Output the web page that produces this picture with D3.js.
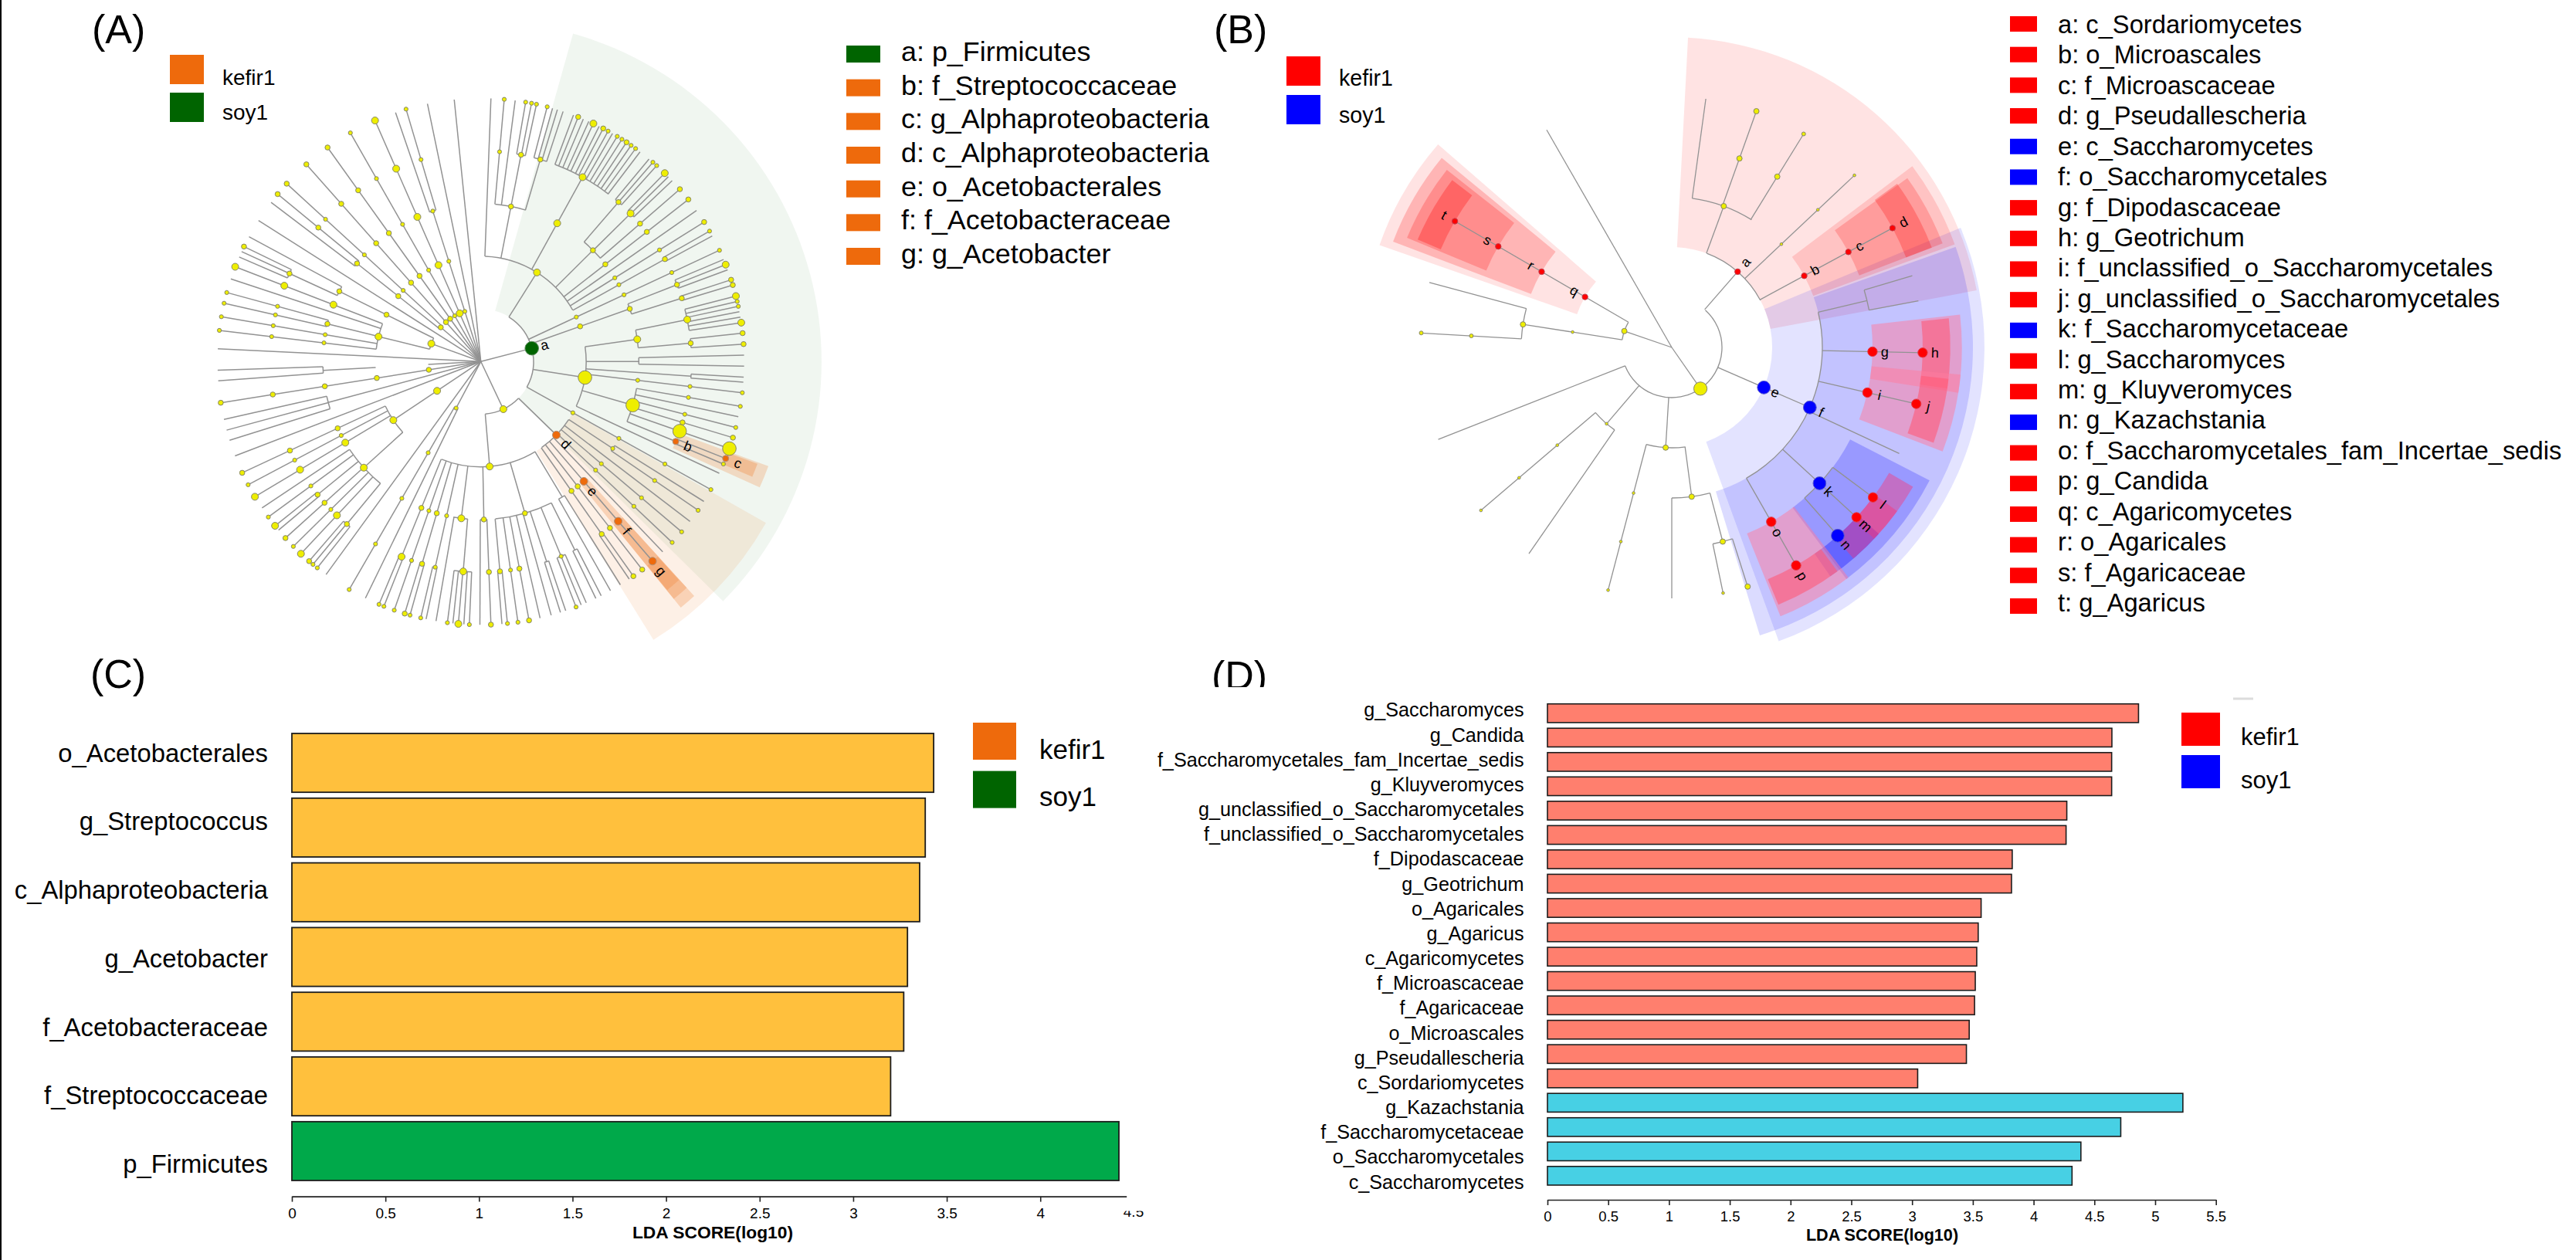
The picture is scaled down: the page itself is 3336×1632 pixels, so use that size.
<!DOCTYPE html>
<html><head><meta charset="utf-8">
<style>html,body{margin:0;padding:0;background:#fff}svg{display:block}text{font-family:"Liberation Sans",Arial,sans-serif;fill:#000}</style>
<script src="https://cdn.jsdelivr.net/npm/d3@7"></script>
</head><body><svg id="c" width="3336" height="1632"></svg>
<script>
// ---------- DATA ----------
const classes = ["kefir1","soy1"];
const panelLabels = ["(A)","(B)","(C)","(D)"];
const legendAItems = ["a: p_Firmicutes","b: f_Streptococcaceae","c: g_Alphaproteobacteria","d: c_Alphaproteobacteria","e: o_Acetobacterales","f: f_Acetobacteraceae","g: g_Acetobacter"];
const legendAClass = [1,0,0,0,0,0,0];
const legendBItems = ["a: c_Sordariomycetes","b: o_Microascales","c: f_Microascaceae","d: g_Pseudallescheria","e: c_Saccharomycetes","f: o_Saccharomycetales","g: f_Dipodascaceae","h: g_Geotrichum","i: f_unclassified_o_Saccharomycetales","j: g_unclassified_o_Saccharomycetales","k: f_Saccharomycetaceae","l: g_Saccharomyces","m: g_Kluyveromyces","n: g_Kazachstania","o: f_Saccharomycetales_fam_Incertae_sedis","p: g_Candida","q: c_Agaricomycetes","r: o_Agaricales","s: f_Agaricaceae","t: g_Agaricus"];
const legendBClass = [0,0,0,0,1,1,0,0,0,0,1,0,0,1,0,0,0,0,0,0];

const barCCats = ["o_Acetobacterales","g_Streptococcus","c_Alphaproteobacteria","g_Acetobacter","f_Acetobacteraceae","f_Streptococcaceae","p_Firmicutes"];
const barCVals = [3.43,3.385,3.355,3.29,3.27,3.2,4.42];
const barCClass = [0,0,0,0,0,0,1];
const barDCats = ["g_Saccharomyces","g_Candida","f_Saccharomycetales_fam_Incertae_sedis","g_Kluyveromyces","g_unclassified_o_Saccharomycetales","f_unclassified_o_Saccharomycetales","f_Dipodascaceae","g_Geotrichum","o_Agaricales","g_Agaricus","c_Agaricomycetes","f_Microascaceae","f_Agaricaceae","o_Microascales","g_Pseudallescheria","c_Sordariomycetes","g_Kazachstania","f_Saccharomycetaceae","o_Saccharomycetales","c_Saccharomycetes"];
const barDVals = [4.863,4.644,4.642,4.642,4.273,4.267,3.824,3.818,3.568,3.544,3.532,3.52,3.514,3.47,3.447,3.046,5.228,4.717,4.389,4.316];
const barDClass = [0,0,0,0,0,0,0,0,0,0,0,0,0,0,0,0,1,1,1,1];
const ticksC = [0,0.5,1,1.5,2,2.5,3,3.5,4];
const ticksD = [0,0.5,1,1.5,2,2.5,3,3.5,4,4.5,5,5.5];

// cladogram A: [angle clockwise from north, from level, to level, node code per level ('.'=none)]
const branchesA = [
[-5.8,0,5,"....."],[-11.7,0,5,"....."],[-17.7,0,3,"sss"],[-16.5,3,5,"ss"],[-18.9,3,5,".."],
[-23.7,0,5,"lllll"],[-29.7,0,5,"sssss"],[-35.6,0,5,"mmmmm"],[-41.5,0,5,"mmmmm"],
[-47.5,1,5,"sssm"],[-51.6,1,3,"mm"],[-50.5,3,5,"mm"],[-52.8,3,5,".."],[-49.5,0,1,"m"],[-57.6,0,5,"....."],
[-70.1,0,1,"l"],[-63.6,1,3,"mm"],[-61.7,3,5,".."],[-65.3,3,4,"m"],[-64.1,4,5,"m"],[-65.3,4,5,"."],[-66.6,4,5,"."],
[-76.3,1,2,"l"],[-68.9,2,5,"lll"],[-71.7,2,5,"..."],[-76.2,2,3,"m"],[-74.8,3,5,"ss"],[-77.2,3,5,"ss"],[-80.2,2,5,"sss"],[-83.2,2,5,"sss"],
[-87.2,0,5,"....."],[-93.2,0,1,"."],[-93.2,2,3,"."],[-91.9,3,5,".."],[-94.2,3,5,".."],[-99,0,5,"mmmmm"],
[-105,0,3,"..."],[-102.7,3,5,".."],[-105.1,3,5,".."],[-107.4,3,5,".."],[-111,0,5,"....."],
[-123.8,0,2,"ll"],[-115,2,5,"mmm"],[-117.9,2,5,"sss"],[-120.9,2,5,"lll"],[-132.2,2,3,"l"],
[-123.8,3,5,".."],[-126.2,3,5,"ss"],[-129.2,3,4,"m"],[-128.6,4,5,"l"],[-129.8,4,5,"."],[-132.1,3,5,"mm"],[-134.6,3,5,"ss"],[-136.9,3,5,"ll"],
[-140.5,3,4,"m"],[-139.3,4,5,"m"],[-140.4,4,5,"s"],[-141.6,4,5,"s"],[-144,0,5,"....."],
[-152,0,1,"s"],[-150,1,5,"ssss"],[-154,1,5,"...."],
[154.7,0,1,"l"],[175.2,1,2,"l"],
[-157.9,2,4,"ml"],[-157.25,4,5,"s"],[-158.4,4,5,"s"],[-160.8,2,5,"sss"],[-163.8,2,4,"mm"],[-163.2,4,5,"m"],[-164.4,4,5,"s"],
[-167.5,2,4,"ss"],[-166.8,4,5,"s"],[-168,4,5,"."],[-172.9,2,3,"l"],[-170.2,3,5,".."],[-175.2,3,4,"l"],
[-172.7,4,5,"s"],[-173.9,4,5,"."],[-175.1,4,5,"l"],[-176.3,4,5,"."],[-177.5,4,5,"s"],
[178.9,2,3,"m"],[180.2,3,5,".."],[177.8,3,5,"mm"],
[163.8,2,3,"m"],[174.8,3,4,"m"],[175.4,4,5,"."],[174.2,4,5,"s"],[171.9,3,5,"ss"],[169.45,3,5,"mm"],[167,3,5,".."],[164.5,3,5,".."],
[161.8,3,4,"."],[162.4,4,5,"."],[161.2,4,5,"."],[157.6,3,4,"s"],[158.8,4,5,"s"],[157.6,4,5,"."],[156.4,4,5,"."],
[153.5,3,4,"."],[154.1,4,5,"."],[152.8,4,5,"."],[149,2,3,"."],[150.5,3,5,".."],[148,3,5,".."],
[134.2,1,2,"O"],[145,2,4,"mm"],[145.7,4,5,"."],[144.6,4,5,"m"],[142.2,2,5,"mmm"],[139.3,2,5,"OOO"],[136.3,2,5,"..."],
[133.4,2,5,"sss"],[130.3,2,5,"sss"],[127.4,2,5,"..."],[123.4,2,3,"s"],[124.4,3,5,"ss"],[122.1,3,5,".."],[119.1,1,5,"ssss"],
[75.4,0,1,"G"],[70.5,1,3,"mm"],[68.6,3,4,"m"],[67.2,4,5,"."],[68.4,4,5,"l"],[69.6,4,5,"."],[72.5,3,4,"m"],[71.9,4,5,"m"],[73.1,4,5,"m"],
[65,1,5,"ssss"],[98.7,1,2,"x"],[115.1,2,5,"..."],[106,2,3,"x"],[99.8,3,5,"ss"],[102.1,3,5,".."],[104.5,3,5,"ss"],[106.8,3,5,"mm"],[109.3,3,5,"xx"],
[112.3,3,4,"o"],[111.6,4,5,"o"],[112.9,4,5,"s"],[96.8,2,5,"sss"],[94,2,4,".."],[93.4,4,5,"."],[94.5,4,5,"."],[90,2,3,"."],[88.6,3,5,".."],[91,3,5,".."],
[81.9,2,3,"l"],[78.5,3,4,"l"],[75.6,4,5,"l"],[76.8,4,5,"s"],[77.9,4,5,"s"],[79.1,4,5,"."],[80.3,4,5,"."],[81.5,4,5,"l"],[85,3,4,"m"],[83.8,4,5,"m"],[86.2,4,5,"m"],
[32.2,1,2,"l"],[28.9,2,4,"ll"],[20.6,4,5,"."],[21.7,4,5,"m"],[22.9,4,5,"."],[24.2,4,5,"."],[25.3,4,5,"l"],[26.7,4,5,"."],[27.7,4,5,"m"],[28.9,4,5,"s"],[30,4,5,"."],[31.2,4,5,"s"],[32.4,4,5,"s"],[33.6,4,5,"m"],[34.8,4,5,"s"],[36,4,5,"s"],[37.2,4,5,"."],
[2.2,2,5,"..."],[11,2,3,"m"],[5.1,3,5,"ss"],[7.5,3,5,".."],[11,3,4,"m"],[9.8,4,5,"s"],[11.1,4,5,"s"],[12.2,4,5,"s"],[16.4,3,4,"m"],[14.6,4,5,"s"],[15.8,4,5,"."],[16.9,4,5,"."],[18.2,4,5,"."],
[45.2,2,3,"m"],[40.8,3,4,"m"],[39.7,4,5,"."],[40.8,4,5,"s"],[41.9,4,5,"s"],[45.3,3,4,"l"],[44.3,4,5,"l"],[45.4,4,5,"."],[46.6,4,5,"."],[49.1,3,5,"mm"],
[52,2,5,"mmm"],[55,2,5,"..."],[58,2,5,"ssm"],[60.9,2,4,"sm"],[60.3,4,5,"s"],[61.5,4,5,"."]
];
// connecting arcs: [level, from angle, to angle]
const arcsA = [[3,-18.9,-16.5],[3,-52.8,-50.5],[1,-51.6,-47.5],[1,-76.4,-63.6],[3,-65.3,-61.7],[4,-66.6,-64.1],[2,-83.2,-69],[3,-77.2,-74.8],
[3,-94.2,-91.9],[3,-107.4,-102.7],[2,-132.2,-115],[3,-140.6,-123.8],[4,-129.8,-128.6],[4,-141.6,-139.3],[1,-154,-150],
[1,134.2,175.2],[2,148.8,201.9],[4,-158.4,-157.25],[4,-164.4,-163.2],[4,-168,-166.8],[3,-175.2,-170],[4,-177.5,-172.7],[3,177.8,180.2],
[3,153.5,174.7],[4,174.2,175.4],[4,161.2,162.4],[4,156.4,158.8],[4,152.8,154.1],[3,148,150.5],[2,123.4,144.7],[4,144.6,145.7],[3,122.1,124.4],
[1,32.2,119.2],[3,68.6,72.5],[4,67.2,69.6],[4,71.9,73.1],[2,81.9,115],[3,99.8,112.3],[4,111.6,112.9],[4,93.4,94.5],[3,88.6,91],[3,78.5,85],[4,75.6,81.5],[4,83.8,86.2],
[2,2.3,60.8],[4,20.6,37.3],[3,5.2,16.5],[4,9.8,12.2],[4,14.6,18.2],[3,40.8,49.2],[4,39.7,41.9],[4,44.3,46.6],[4,60.3,61.5]];
// shaded clades: [from angle, to angle, inner level, outer level, class, clade]
const sectorsA = [[15.7,134.7,1,6.47,1,"a"],[119.5,148.2,2,6.22,0,"d"],[137.7,140.9,3,6.02,0,"e"],[137.7,140.9,4,5.81,0,"f"],[137.8,140.8,5,5.6,0,"g"],[110,114.3,4,5.81,0,"b"],[110.3,113,5,5.6,0,"c"]];
const cladeAlphaA = {a:0.06,d:0.1,e:0.22,f:0.22,g:0.2,b:0.2,c:0.25};
// node labels: [letter, angle, level]
const labelsA = [["a",75.4,1],["b",112.3,4],["c",111.6,5],["d",134.2,2],["e",139.3,3],["f",139.3,4],["g",139.3,5]];

const branchesB = [
[145.2,0,1,"X"],[-29.9,0,5,"....."],[41,1,2,"r"],[20.2,2,3,"m"],[7.8,3,5,".."],[19.7,3,5,"mm"],[31.7,3,5,"ms"],[46.7,2,5,"ttt"],[61.6,2,5,"rrr"],
[113.5,1,3,"BB"],[76.5,3,4,"."],[73.4,4,5,"."],[79.3,4,5,"."],[91.2,3,5,"RR"],[103,3,5,"RR"],[115,3,5,".."],[132.6,3,4,"B"],[126.7,4,5,"R"],[132.6,4,5,"R"],[138.6,4,5,"B"],[150.3,3,5,"RR"],
[183.5,1,2,"m"],[172.4,2,3,"m"],[180,3,5,".."],[165.3,3,4,"m"],[168.2,4,5,"t"],[162.4,4,5,"m"],[194.7,2,5,"ttt"],[220.5,1,2,"t"],[229.5,2,5,"ttt"],[214.7,2,5,"..."],[248.5,1,5,"...."],
[-71,0,1,"m"],[-59.8,1,5,"rrrr"],[-81.2,1,3,"tm"],[-75,3,5,".."],[-86.7,3,5,"ss"]
];
const arcsB = [[1,42,248.5],[2,20.4,62],[3,7.8,32],[3,76.5,150.3],[4,73.4,79.3],[4,126.7,138.6],[2,172.2,194.7],[3,165.3,180],[4,162.4,168.2],[2,214.7,229.5],[1,-81.2,-59.8],[3,-86.7,-75]];
const sectorsB = [
[3,79.4,2,6.18,0,"a"],[-70.7,-49,2,6.17,0,"q"],[-69.2,-50.5,3,5.94,0,"r"],[-67.5,-51.7,4,5.71,0,"s"],[-67,-52.7,5,5.5,0,"t"],
[67.5,160,2,6.23,1,"e"],[70.5,163,3,6,1,"f"],[117.3,143,4,5.78,1,"k"],[132,145.3,5,5.55,1,"n"],
[53,70,3,6,0,"b"],[54.3,69,4,5.78,0,"c"],[54,69,5,5.55,0,"d"],
[83.5,99,4,5.78,2,"g"],[84,98.5,5,5.55,3,"h"],[95.4,111,4,5.78,2,"i"],[96.5,110,5,5.55,3,"j"],
[120,133.4,5,5.55,4,"l"],[126,139.3,5,5.55,4,"m"],[142.5,158,4,5.78,2,"o"],[143.5,157.5,5,5.55,3,"p"]];
const cladeAlphaB = {a:0.11,q:0.11,r:0.2,s:0.22,t:0.28,e:0.11,f:0.14,k:0.21,n:0.34,b:0.14,c:0.2,d:0.25,g:0.5,h:0.6,i:0.5,j:0.6,l:0.4,m:0.4,o:0.5,p:0.6};
const labelsB = [["a",40.9,2],["b",61.6,3],["c",61.6,4],["d",61.6,5],["e",113.5,2],["f",113.5,3],["g",91.2,4],["h",91.2,5],["i",103,4],["j",103,5],["k",132.6,4],["l",126.7,5],["m",132.6,5],["n",138.6,5],["o",150.3,4],["p",150.3,5],["q",-59.8,2],["r",-59.8,3],["s",-59.8,4],["t",-59.8,5]];

// ---------- DRAWING ----------
const svg = d3.select("#c");
const rad = d => d*Math.PI/180;
svg.append("rect").attr("width",3336).attr("height",1632).attr("fill","#fff");
svg.append("rect").attr("x",0).attr("y",0).attr("width",2).attr("height",1632).attr("fill","#000");

function cladogram(o){
  const g = svg.append("g").attr("transform",`translate(${o.cx},${o.cy})`);
  const r = d3.scaleLinear().domain([0,5]).range([0,o.rmax]);
  const cls = d3.scaleOrdinal().domain(d3.range(o.colors.length)).range(o.colors);
  const sec = d3.arc().innerRadius(d=>r(d[2])).outerRadius(d=>r(d[3])).startAngle(d=>rad(d[0])).endAngle(d=>rad(d[1]));
  g.selectAll("path.sec").data(o.sectors).join("path").attr("class","sec").attr("d",sec)
    .attr("fill",d=>cls(d[4])).attr("fill-opacity",d=>o.alpha[d[5]]);
  const radial = d3.lineRadial().angle(d=>rad(d[0])).radius(d=>r(d[1]));
  g.selectAll("path.br").data(o.branches).join("path").attr("class","br")
    .attr("d",d=>radial([[d[0],d[1]],[d[0],d[2]]]))
    .attr("fill","none").attr("stroke","#929292").attr("stroke-width",o.lw);
  const arc = d3.arc().innerRadius(d=>r(d[0])).outerRadius(d=>r(d[0])).startAngle(d=>rad(d[1])).endAngle(d=>rad(d[2]));
  g.selectAll("path.ar").data(o.arcs).join("path").attr("class","ar").attr("d",arc)
    .attr("fill","none").attr("stroke","#929292").attr("stroke-width",o.lw);
  const nodes = [];
  o.branches.forEach(b=>{[...b[3]].forEach((c,i)=>{ if(c!==".") nodes.push({t:b[0],l:b[1]+1+i,c}); });});
  g.selectAll("circle").data(nodes).join("circle")
    .attr("cx",d=>r(d.l)*Math.sin(rad(d.t))).attr("cy",d=>-r(d.l)*Math.cos(rad(d.t)))
    .attr("r",d=>o.nodeR[d.c]).attr("fill",d=>o.nodeF[d.c]||"#eeee00")
    .attr("stroke",d=>o.nodeS&&o.nodeS[d.c]||"#85856a").attr("stroke-width",1);
  g.selectAll("text").data(o.labels).join("text").text(d=>d[0])
    .attr("font-size",18).attr("text-anchor","middle").attr("dominant-baseline","central")
    .attr("transform",d=>{
      const R=r(d[2])+o.lo, x=R*Math.sin(rad(d[1])), y=-R*Math.cos(rad(d[1]));
      return `translate(${x},${y}) rotate(${d[1]<0?d[1]+90:d[1]-90})`;
    });
}
cladogram({cx:622.7,cy:468.3,rmax:341,lw:1.5,colors:["#ee6a0c","#006400"],sectors:sectorsA,alpha:cladeAlphaA,branches:branchesA,arcs:arcsA,labels:labelsA,lo:17,
  nodeR:{s:2.6,m:3.3,l:4.5,x:8.8,O:5,o:4,G:8.8},nodeF:{O:"#ee6a0c",o:"#ee6a0c",G:"#006400"},nodeS:{O:"#b0907a",o:"#b0907a",G:"#5a8a5a"}});
cladogram({cx:2165,cy:450,rmax:325,lw:1.3,colors:["#ff0000","#0000ff","#ff7b9d","#ff5a78","#ff2f6e"],sectors:sectorsB,alpha:cladeAlphaB,branches:branchesB,arcs:arcsB,labels:labelsB,lo:16,
  nodeR:{t:1.8,s:2.5,m:3.5,X:8.6,B:8.4,R:6.2,r:3.7},nodeF:{B:"#0000ff",R:"#ff0000",r:"#ff0000"},nodeS:{B:"#5a5ad0",R:"#e04050",r:"#c04050"}});

// panel letters
const panelPos = [[119,56],[1572,56],[117,890.5],[1569,893]];
svg.selectAll("text.panel").data(panelLabels).join("text").attr("class","panel").text(d=>d)
  .attr("font-size",52).attr("x",(d,i)=>panelPos[i][0]).attr("y",(d,i)=>panelPos[i][1]);
svg.append("rect").attr("x",1560).attr("y",890).attr("width",90).attr("height",16).attr("fill","#fff");

function classLegend(o){
  const y = d3.scalePoint().domain(classes).range([o.y0,o.y1]);
  const bl = d3.scalePoint().domain(classes).range(o.base);
  svg.selectAll(null).data(classes).join("rect").attr("x",o.x).attr("y",d=>y(d)).attr("width",o.w).attr("height",o.h).attr("fill",(d,i)=>o.colors[i]);
  svg.selectAll(null).data(classes).join("text").text(d=>d).attr("x",o.tx).attr("y",d=>bl(d)).attr("font-size",o.fs);
}
classLegend({x:220,w:44,y0:71,y1:120,h:38,tx:288,base:[110,155],fs:28,colors:["#ee6a0c","#006400"]});
classLegend({x:1666,w:44,y0:73,y1:123,h:38,tx:1734,base:[111,159],fs:28.6,colors:["#ff0000","#0000ff"]});
classLegend({x:1260,w:56,y0:936,y1:998.6,h:48,tx:1346,base:[983,1043.5],fs:35,colors:["#ee6a0c","#006400"]});
classLegend({x:2825,w:50,y0:923,y1:978,h:43,tx:2902,base:[965,1021],fs:31,colors:["#ff0000","#0000ff"]});
svg.append("rect").attr("x",2892).attr("y",903.5).attr("width",26).attr("height",3).attr("fill","#dcdcdc");

function keyList(items,cl,o){
  const y = d3.scalePoint().domain(items).range([o.y0,o.y1]);
  const ty = d3.scalePoint().domain(items).range([o.t0,o.t1]);
  svg.selectAll(null).data(items).join("rect").attr("x",o.x).attr("width",o.w).attr("y",d=>y(d)-o.h/2).attr("height",o.h).attr("fill",(d,i)=>o.colors[cl[i]]);
  svg.selectAll(null).data(items).join("text").text(d=>d).attr("x",o.tx).attr("y",d=>ty(d)).attr("font-size",o.fs);
}
keyList(legendAItems,legendAClass,{x:1096,w:44,h:22,y0:70,y1:332,t0:79,t1:341,tx:1167,fs:35.9,colors:["#ee6a0c","#006400"]});
keyList(legendBItems,legendBClass,{x:2603,w:35,h:20,y0:31,y1:785,t0:43,t1:792,tx:2665,fs:32.7,colors:["#ff0000","#0000ff"]});

function barPanel(o){
  const x = d3.scaleLinear().domain(o.dom).range(o.xr);
  const y = d3.scaleBand().domain(o.cats).range(o.yr).paddingInner(o.pad);
  svg.selectAll(null).data(o.cats).join("rect")
    .attr("x",x(0)).attr("y",d=>y(d)).attr("height",y.bandwidth())
    .attr("width",(d,i)=>x(o.vals[i])-x(0)).attr("fill",(d,i)=>o.fills[o.cl[i]])
    .attr("stroke","#1c1c1c").attr("stroke-width",o.sw);
  const ly = d3.scalePoint().domain(o.cats).range(o.lr);
  svg.selectAll(null).data(o.cats).join("text").text(d=>d).attr("text-anchor","end")
    .attr("x",o.lx).attr("y",d=>ly(d)).attr("font-size",o.lfs);
  const ax = d3.axisBottom(x).tickValues(o.ticks).tickFormat(d3.format("~g")).tickSize(7).tickSizeOuter(0).tickPadding(8);
  const ag = svg.append("g").attr("transform",`translate(0,${o.axisY})`).call(ax);
  ag.selectAll("text").attr("font-size",o.tfs).attr("font-family",'"Liberation Sans"');
  ag.selectAll("path,line").attr("stroke","#222").attr("stroke-width",1.6);
  svg.append("text").text("LDA SCORE(log10)").attr("x",o.tx).attr("y",o.ty).attr("text-anchor","middle")
    .attr("font-size",o.xfs).attr("font-weight","bold");
  return x;
}
barPanel({cats:barCCats,vals:barCVals,cl:barCClass,fills:["#ffc03d","#00a94a"],dom:[0,4.46],xr:[378,1458.7],yr:[950,1529],pad:0.091,sw:1.8,
  lr:[986.5,1519],lx:347,lfs:32.8,ticks:ticksC,axisY:1549.6,tfs:19,tx:923,ty:1604,xfs:22.8});
svg.append("text").text("4.5").attr("x",1468).attr("y",1576).attr("text-anchor","middle").attr("font-size",19);
svg.append("rect").attr("x",1450).attr("y",1553).attr("width",40).attr("height",15.5).attr("fill","#fff");
barPanel({cats:barDCats,vals:barDVals,cl:barDClass,fills:["#ff7f6e","#47d0e4"],dom:[0,5.5],xr:[2004,2869.7],yr:[911.7,1535],pad:0.232,sw:1.6,
  lr:[928.4,1539.5],lx:1973.5,lfs:25.2,ticks:ticksD,axisY:1554,tfs:18.5,tx:2437.5,ty:1606.7,xfs:21.6});
</script></body></html>
